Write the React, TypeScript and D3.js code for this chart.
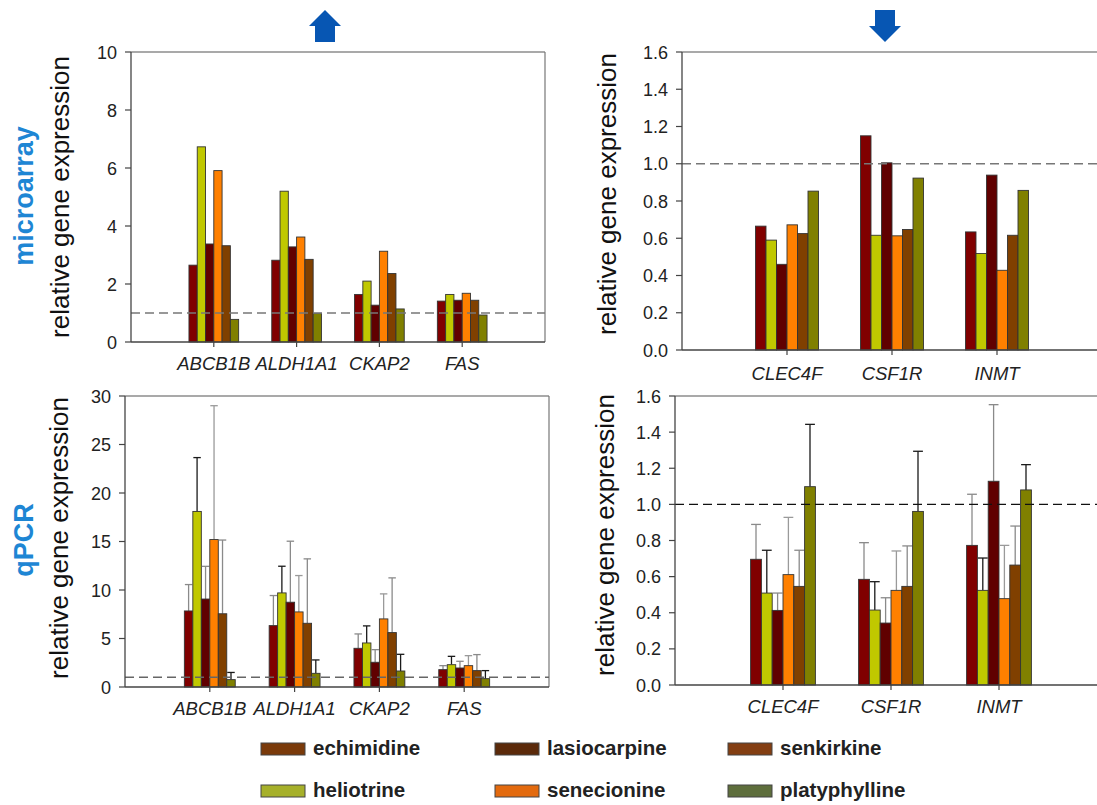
import React from 'react';
import * as d3 from 'd3';

// series (compounds) in bar order
const series = ['echimidine', 'heliotrine', 'lasiocarpine', 'senecionine', 'senkirkine', 'platyphylline'];
const barColors = ['#800000', '#c0c800', '#600000', '#ff8000', '#804000', '#808000'];
const errColors = ['#8a8a8a', '#1a1a1a', '#8a8a8a', '#9a9a9a', '#8a8a8a', '#1a1a1a'];

// legend order / colours as printed in the figure
const legendNames = ['echimidine', 'lasiocarpine', 'senkirkine', 'heliotrine', 'senecionine', 'platyphylline'];
const legendColors = ['#7a3a0a', '#5b2a0a', '#833e12', '#a6b02a', '#e36a0e', '#5e6e3c'];

const upGenes = ['ABCB1B', 'ALDH1A1', 'CKAP2', 'FAS'];
const downGenes = ['CLEC4F', 'CSF1R', 'INMT'];

const upTicks = [0, 2, 4, 6, 8, 10];
const qpcrUpTicks = [0, 5, 10, 15, 20, 25, 30];
const downTicks = [0, 0.2, 0.4, 0.6, 0.8, 1.0, 1.2, 1.4, 1.6];

// microarray, one row per gene, one value per compound
const microUp = [
  [2.65, 6.73, 3.38, 5.91, 3.32, 0.78],
  [2.82, 5.2, 3.28, 3.62, 2.85, 0.99],
  [1.64, 2.1, 1.27, 3.13, 2.36, 1.14],
  [1.41, 1.64, 1.44, 1.68, 1.44, 0.93],
];
const microDown = [
  [0.665, 0.59, 0.46, 0.672, 0.625, 0.853],
  [1.15, 0.616, 1.005, 0.613, 0.647, 0.923],
  [0.634, 0.518, 0.939, 0.428, 0.616, 0.857],
];

// qPCR means and upper error bar ends
const qpcrUp = [
  [7.84, 18.1, 9.07, 15.2, 7.55, 0.76],
  [6.33, 9.7, 8.74, 7.74, 6.57, 1.41],
  [3.99, 4.54, 2.55, 7.02, 5.61, 1.65],
  [1.79, 2.3, 1.96, 2.2, 1.69, 0.86],
];
const qpcrUpErr = [
  [10.56, 23.65, 12.44, 29.0, 15.15, 1.5],
  [9.43, 12.45, 15.03, 11.49, 13.21, 2.79],
  [5.47, 6.3, 3.85, 9.6, 11.25, 3.37],
  [2.2, 3.16, 2.65, 3.23, 3.34, 1.69],
];
const qpcrDown = [
  [0.696, 0.509, 0.413, 0.611, 0.546, 1.098],
  [0.585, 0.415, 0.343, 0.524, 0.546, 0.961],
  [0.773, 0.524, 1.128, 0.478, 0.664, 1.08],
];
const qpcrDownErr = [
  [0.889, 0.746, 0.509, 0.928, 0.746, 1.443],
  [0.788, 0.572, 0.483, 0.742, 0.77, 1.294],
  [1.056, 0.703, 1.552, 0.773, 0.88, 1.22],
];

const FONT = '"Liberation Sans", Arial, sans-serif';

type PanelProps = {
  left: number; right: number; top: number; bottom: number;
  slots: number; frameRight: number; showRight: boolean;
  yMax: number; ticks: number[]; fmt: (v: number) => string;
  genes: string[]; values: number[][]; errors?: number[][];
  labelX: number; labelY: number; catY: number;
  refColor: string; refWidth: number;
};

function Panel(p: PanelProps) {
  const x = d3.scaleLinear().domain([0, p.slots]).range([p.left, p.right]);
  const y = d3.scaleLinear().domain([0, p.yMax]).range([p.bottom, p.top]);
  const step = x(1) - x(0);
  const inner = d3.scaleBand<string>().domain(series).range([-0.3 * step, 0.3 * step]).padding(0);
  const bw = inner.bandwidth();
  return (
    <g>
      {/* frame */}
      <line x1={p.left} x2={p.frameRight} y1={p.top} y2={p.top} stroke="#555" strokeWidth={1.2} />
      {p.showRight && <line x1={p.frameRight} x2={p.frameRight} y1={p.top} y2={p.bottom} stroke="#777" strokeWidth={1.2} />}
      {/* bars */}
      {p.genes.map((g, gi) => (
        <g key={g} transform={`translate(${x(gi + 1)},0)`}>
          {series.map((s, si) => {
            const v = p.values[gi][si];
            const bx = inner(s) as number;
            return (
              <g key={s}>
                {p.errors && (
                  <g stroke={errColors[si]} strokeWidth={1.3}>
                    <line x1={bx + bw / 2} x2={bx + bw / 2} y1={y(v)} y2={y(p.errors[gi][si])} />
                    <line x1={bx + 0.5} x2={bx + bw - 0.5} y1={y(p.errors[gi][si])} y2={y(p.errors[gi][si])} />
                  </g>
                )}
                <rect x={bx} y={y(v)} width={bw} height={y(0) - y(v)} fill={barColors[si]} stroke="#333" strokeWidth={0.9} />
              </g>
            );
          })}
        </g>
      ))}
      {/* reference line at 1 */}
      <line x1={p.left} x2={p.frameRight} y1={y(1)} y2={y(1)} stroke={p.refColor} strokeWidth={p.refWidth} strokeDasharray="9,5" />
      {/* axes */}
      <line x1={p.left} x2={p.frameRight} y1={p.bottom} y2={p.bottom} stroke="#444" strokeWidth={1.3} />
      <line x1={p.left} x2={p.left} y1={p.top} y2={p.bottom} stroke="#444" strokeWidth={1.3} />
      {p.ticks.map(t => (
        <g key={t}>
          <line x1={p.left - 6} x2={p.left} y1={y(t)} y2={y(t)} stroke="#444" strokeWidth={1.2} />
          <text x={p.left - 14} y={y(t) + 6.5} textAnchor="end" fontSize={18} fill="#222" fontFamily={FONT}>{p.fmt(t)}</text>
        </g>
      ))}
      {p.genes.map((g, gi) => (
        <g key={g}>
          <line x1={x(gi + 1)} x2={x(gi + 1)} y1={p.bottom} y2={p.bottom + 5} stroke="#444" strokeWidth={1.2} />
          <text x={x(gi + 1)} y={p.catY} textAnchor="middle" fontSize={18.5} fontStyle="italic" fill="#222" fontFamily={FONT}>{g}</text>
        </g>
      ))}
      <text transform={`translate(${p.labelX},${p.labelY}) rotate(-90)`} textAnchor="middle" fontSize={26} fill="#111" fontFamily={FONT}>
        relative gene expression
      </text>
    </g>
  );
}

function Arrow({ cx, top, down }: { cx: number; top: number; down: boolean }) {
  const hw = 16, sw = 10, hh = 16, h = 32;
  const pts = down
    ? [[cx - sw, top], [cx + sw, top], [cx + sw, top + h - hh], [cx + hw, top + h - hh], [cx, top + h], [cx - hw, top + h - hh], [cx - sw, top + h - hh]]
    : [[cx, top], [cx + hw, top + hh], [cx + sw, top + hh], [cx + sw, top + h], [cx - sw, top + h], [cx - sw, top + hh], [cx - hw, top + hh]];
  return <polygon points={pts.map(d => d.join(',')).join(' ')} fill="#0756b3" />;
}

export default function App() {
  const int = (v: number) => d3.format('d')(v);
  const one = (v: number) => d3.format('.1f')(v);
  const legendCols = [261, 495, 728];
  const legendRows = [743, 785];
  return (
    <svg width={1097} height={805} style={{ position: 'absolute', left: 0, top: 0, background: '#fff' }}>
      <rect width={1097} height={805} fill="#fff" />
      <Arrow cx={325} top={10} down={false} />
      <Arrow cx={885} top={10} down={true} />

      <Panel left={131} right={545} top={52} bottom={342} slots={5} frameRight={545} showRight
        yMax={10} ticks={upTicks} fmt={int} genes={upGenes} values={microUp}
        labelX={69} labelY={197} catY={370} refColor="#777" refWidth={1.6} />
      <Panel left={682} right={1102} top={52} bottom={350} slots={4} frameRight={1097} showRight={false}
        yMax={1.6} ticks={downTicks} fmt={one} genes={downGenes} values={microDown}
        labelX={616} labelY={194} catY={380} refColor="#777" refWidth={1.6} />
      <Panel left={125} right={549} top={396} bottom={687} slots={5} frameRight={549} showRight
        yMax={30} ticks={qpcrUpTicks} fmt={int} genes={upGenes} values={qpcrUp} errors={qpcrUpErr}
        labelX={68} labelY={538} catY={715} refColor="#666" refWidth={1.5} />
      <Panel left={675} right={1107} top={396} bottom={685} slots={4} frameRight={1097} showRight={false}
        yMax={1.6} ticks={downTicks} fmt={one} genes={downGenes} values={qpcrDown} errors={qpcrDownErr}
        labelX={614} labelY={535} catY={713} refColor="#111" refWidth={1.2} />

      <text transform="translate(33,196) rotate(-90)" textAnchor="middle" fontSize={27} fontWeight="bold" fill="#1e86d4" fontFamily={FONT}>microarray</text>
      <text transform="translate(33,540) rotate(-90)" textAnchor="middle" fontSize={27} fontWeight="bold" fill="#1e86d4" fontFamily={FONT}>qPCR</text>

      {legendNames.map((name, i) => {
        const cx = legendCols[i % 3];
        const ry = legendRows[Math.floor(i / 3)];
        return (
          <g key={name}>
            <rect x={cx} y={ry} width={44} height={12} fill={legendColors[i]} stroke="#444" strokeWidth={1} />
            <text x={cx + 52} y={ry + 12} fontSize={20.5} fontWeight="bold" fill="#222" fontFamily={FONT}>{name}</text>
          </g>
        );
      })}
    </svg>
  );
}
